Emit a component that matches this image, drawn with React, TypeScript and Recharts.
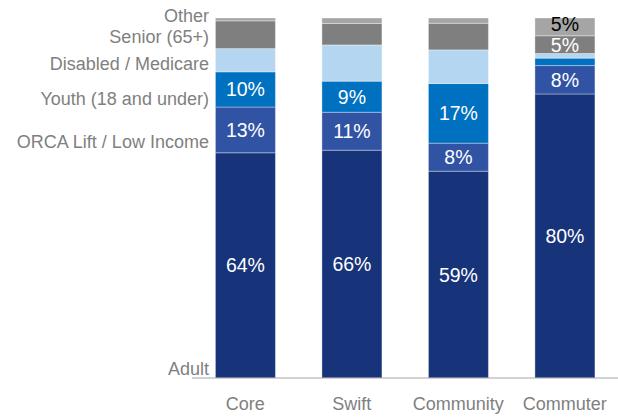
import { BarChart, Bar, XAxis, YAxis, LabelList } from 'recharts';

const categories = ['Core', 'Swift', 'Community', 'Commuter'];

// raw shares per fare category (bars are normalised to 100%)
const adult = [64, 66, 59, 80];
const orcaLift = [13, 11, 8, 8];
const youth = [10, 9, 17, 2.1];
const disabled = [6.6, 10.5, 9.6, 1.3];
const senior = [7.9, 6.2, 7.6, 5];
const other = [0.8, 1.6, 1.5, 5];

const adultLabels = ['64%', '66%', '59%', '80%'];
const orcaLabels = ['13%', '11%', '8%', '8%'];
const youthLabels = ['10%', '9%', '17%', ''];
const disabledLabels = ['', '', '', ''];
const seniorLabels = ['', '', '', '5%'];
const otherLabels = ['', '', '', '5%'];

const FONT = '"Liberation Sans", Arial, sans-serif';

const SERIES = [
  { key: 'adult', name: 'Adult', color: '#17337a', text: '#ffffff', nameOffset: -9.4, labelDy: 0 },
  { key: 'orca', name: 'ORCA Lift / Low Income', color: '#3053a3', text: '#ffffff', nameOffset: -10.3, labelDy: 0 },
  { key: 'youth', name: 'Youth (18 and under)', color: '#0070c0', text: '#ffffff', nameOffset: -8, labelDy: 0 },
  { key: 'disabled', name: 'Disabled / Medicare', color: '#b4d6f0', text: '#ffffff', nameOffset: -7.5, labelDy: 0 },
  { key: 'senior', name: 'Senior (65+)', color: '#7f7f7f', text: '#ffffff', nameOffset: -11.5, labelDy: 0 },
  { key: 'other', name: 'Other', color: '#a5a5a5', text: '#000000', nameOffset: -5, labelDy: -2.5 },
];

const data = categories.map((name, i) => ({
  name,
  adult: adult[i],
  orca: orcaLift[i],
  youth: youth[i],
  disabled: disabled[i],
  senior: senior[i],
  other: other[i],
  adultLabel: adultLabels[i],
  orcaLabel: orcaLabels[i],
  youthLabel: youthLabels[i],
  disabledLabel: disabledLabels[i],
  seniorLabel: seniorLabels[i],
  otherLabel: otherLabels[i],
}));

// draws the segment and, on the first bar, the series name to its left
function makeShape(name: string, nameOffset: number) {
  return (props: any) => {
    const { x, y, width, height, fill, index } = props;
    return (
      <g>
        <rect x={x} y={y} width={width} height={height} fill={fill} stroke="#ffffff" strokeOpacity={0.35} strokeWidth={1} />
        {index === 0 && (
          <text
            x={x - 6.5}
            y={y + height + nameOffset}
            textAnchor="end"
            dominantBaseline="central"
            fill="#7f7f7f"
            fontSize={18}
            fontFamily={FONT}
          >
            {name}
          </text>
        )}
      </g>
    );
  };
}

export default function App() {
  return (
    <div style={{ position: 'absolute', left: 0, top: 0, fontFamily: FONT }}>
      <BarChart
        width={618}
        height={417}
        data={data}
        stackOffset="expand"
        barCategoryGap="22%"
        margin={{ top: 18, right: 0, left: 192, bottom: 9 }}
      >
        <XAxis
          dataKey="name"
          height={30}
          axisLine={{ stroke: '#a6a6a6', strokeWidth: 1 }}
          tickLine={false}
          tickSize={6}
          tickMargin={13}
          tick={{ fill: '#7f7f7f', fontSize: 18, fontFamily: FONT }}
        />
        <YAxis hide domain={[0, 1]} />
        {SERIES.map((s) => (
          <Bar
            key={s.key}
            dataKey={s.key}
            name={s.name}
            stackId="fare"
            fill={s.color}
            isAnimationActive={false}
            shape={makeShape(s.name, s.nameOffset)}
          >
            <LabelList
              dataKey={`${s.key}Label`}
              position="center"
              fill={s.text}
              stroke="none"
              fontSize={19.5}
              fontFamily={FONT}
              dy={s.labelDy}
            />
          </Bar>
        ))}
      </BarChart>
    </div>
  );
}
